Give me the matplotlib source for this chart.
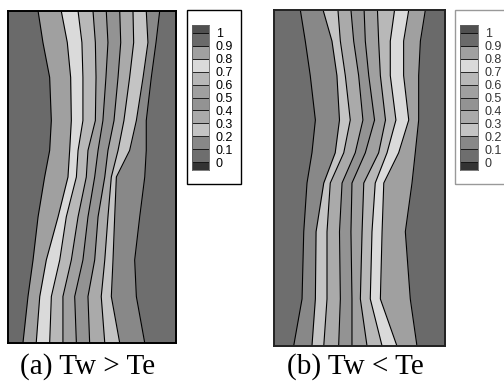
import matplotlib.pyplot as plt
from matplotlib.patches import Rectangle
import numpy as np

# contour levels and the grey used for each band (0-0.1 ... 0.9-1)
levels = [0, 0.1, 0.2, 0.3, 0.4, 0.5, 0.6, 0.7, 0.8, 0.9, 1]
level_labels = ['0', '0.1', '0.2', '0.3', '0.4', '0.5', '0.6', '0.7', '0.8', '0.9', '1']
band_colors = ['#6e6e6e', '#888888', '#c4c4c4', '#aaaaaa', '#939393',
               '#a0a0a0', '#b8b8b8', '#dadada', '#a0a0a0', '#6a6a6a']
under_color = '#333333'
over_color = '#505050'

# (a) Tw > Te : x of the 0.9, 0.8, ..., 0.1 lines (left to right) at each height
a_y = [0, 0.28, 0.5, 0.76, 1.0, 1.16, 1.34, 1.6, 1.81, 2.0]
a_x = [
    [0.089, 0.168, 0.248, 0.327, 0.407, 0.486, 0.576, 0.665, 0.814],
    [0.119, 0.189, 0.258, 0.327, 0.397, 0.476, 0.555, 0.615, 0.764],
    [0.149, 0.228, 0.308, 0.377, 0.446, 0.516, 0.576, 0.625, 0.754],
    [0.179, 0.298, 0.347, 0.417, 0.476, 0.536, 0.595, 0.635, 0.784],
    [0.218, 0.357, 0.407, 0.466, 0.516, 0.576, 0.615, 0.645, 0.814],
    [0.248, 0.367, 0.417, 0.476, 0.536, 0.595, 0.655, 0.724, 0.823],
    [0.258, 0.377, 0.446, 0.520, 0.565, 0.631, 0.690, 0.764, 0.823],
    [0.248, 0.373, 0.446, 0.524, 0.583, 0.655, 0.724, 0.804, 0.853],
    [0.208, 0.353, 0.440, 0.520, 0.595, 0.671, 0.748, 0.833, 0.881],
    [0.179, 0.317, 0.417, 0.506, 0.585, 0.665, 0.744, 0.823, 0.903],
]

# (b) Tw < Te : x of the 0.1, 0.2, ..., 0.9 lines (left to right)
b_y = [0, 0.28, 0.68, 0.97, 1.15, 1.345, 1.61, 1.815, 2.0]
b_x = [
    [0.115, 0.222, 0.291, 0.378, 0.456, 0.544, 0.632, 0.719, 0.836],
    [0.164, 0.242, 0.310, 0.388, 0.456, 0.505, 0.563, 0.622, 0.797],
    [0.174, 0.246, 0.310, 0.383, 0.450, 0.515, 0.573, 0.632, 0.768],
    [0.193, 0.291, 0.329, 0.398, 0.456, 0.525, 0.592, 0.642, 0.807],
    [0.222, 0.358, 0.408, 0.475, 0.534, 0.612, 0.661, 0.729, 0.826],
    [0.242, 0.383, 0.446, 0.520, 0.588, 0.652, 0.713, 0.788, 0.846],
    [0.212, 0.368, 0.417, 0.495, 0.554, 0.622, 0.680, 0.758, 0.846],
    [0.183, 0.339, 0.388, 0.466, 0.534, 0.612, 0.680, 0.758, 0.856],
    [0.154, 0.287, 0.374, 0.450, 0.527, 0.605, 0.705, 0.788, 0.885],
]


def draw_panel(ax, y, xs, colors, frame):
    xs = np.array(xs)
    n = len(y)
    edges = np.column_stack([np.zeros(n), xs, np.ones(n)])
    for i in range(edges.shape[1] - 1):
        ax.fill_betweenx(y, edges[:, i], edges[:, i + 1], facecolor=colors[i],
                         edgecolor=colors[i], lw=0.4)
    for j in range(xs.shape[1]):
        ax.plot(xs[:, j], y, color='black', lw=0.8, solid_joinstyle='round')
    ax.set_xlim(0, 1)
    ax.set_ylim(0, 2)
    ax.set_xticks([])
    ax.set_yticks([])
    for s in ax.spines.values():
        s.set_color(frame)
        s.set_linewidth(1.4)


def draw_legend(fig, box, bar, box_color, text_color):
    W, H = 504, 383
    x0, y0, x1, y1 = box
    fig.patches.append(Rectangle((x0 / W, 1 - y1 / H), (x1 - x0) / W, (y1 - y0) / H,
                                 transform=fig.transFigure, fill=False,
                                 edgecolor=box_color, lw=1.0))
    bx0, by0, bx1, by1 = bar
    cax = fig.add_axes([bx0 / W, 1 - by1 / H, (bx1 - bx0) / W, (by1 - by0) / H])
    ext = 0.062
    cax.bar(0.5, ext, bottom=-ext, width=1, color=under_color, edgecolor='black', lw=0.5)
    cax.bar([0.5] * 10, 0.1, bottom=levels[:-1], width=1, color=band_colors,
            edgecolor='black', lw=0.5)
    cax.bar(0.5, ext, bottom=1, width=1, color=over_color, edgecolor='black', lw=0.5)
    cax.set_xlim(0, 1)
    cax.set_ylim(-ext, 1 + ext)
    cax.set_xticks([])
    cax.yaxis.tick_right()
    cax.set_yticks(levels)
    cax.set_yticklabels(level_labels, fontsize=9, color=text_color,
                        family='Liberation Sans')
    cax.tick_params(axis='y', length=0, pad=5)
    for s in cax.spines.values():
        s.set_color('#666666')
        s.set_linewidth(0.6)


fig = plt.figure(figsize=(5.04, 3.83), dpi=100)

ax_a = fig.add_axes([8 / 504, 40 / 383, 168 / 504, 332 / 383])
draw_panel(ax_a, a_y, a_x, band_colors[::-1], 'black')

ax_b = fig.add_axes([274 / 504, 37 / 383, 171 / 504, 336 / 383])
draw_panel(ax_b, b_y, b_x, band_colors, '#222222')

draw_legend(fig, (187, 10, 241, 184), (192, 25, 209, 170), 'black', 'black')
draw_legend(fig, (455, 10, 512, 184), (460, 25, 478, 170), '#999999', '#333333')

fig.text(88 / 504, 1 - 367 / 383, '(a) Tw > Te', ha='center', va='center',
         fontsize=21, family='Liberation Serif')
fig.text(355 / 504, 1 - 367 / 383, '(b) Tw < Te', ha='center', va='center',
         fontsize=21, family='Liberation Serif')

fig.savefig('out.png', dpi=100)
